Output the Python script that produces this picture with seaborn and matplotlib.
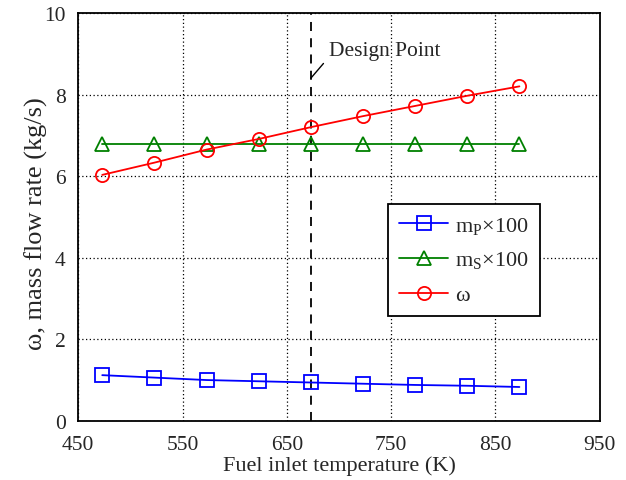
import matplotlib
matplotlib.use("Agg")
import matplotlib.pyplot as plt
import seaborn as sns
import pandas as pd

temperature = [473, 523, 573, 623, 673, 723, 773, 823, 873]
omega = [6.03, 6.33, 6.65, 6.91, 7.20, 7.47, 7.72, 7.97, 8.20]
ms_x100 = [6.79, 6.79, 6.79, 6.79, 6.79, 6.79, 6.79, 6.79, 6.79]
mp_x100 = [1.12, 1.06, 1.00, 0.97, 0.94, 0.91, 0.88, 0.86, 0.83]
design_point = 673
x_ticks = [450, 550, 650, 750, 850, 950]
y_ticks = [0, 2, 4, 6, 8, 10]

sns.set_style("white")
plt.rcParams['font.family'] = ['Liberation Serif', 'DejaVu Serif']
plt.rcParams['mathtext.fontset'] = 'custom'
plt.rcParams['mathtext.rm'] = 'Liberation Serif'

fig, ax = plt.subplots(figsize=(6.26, 4.81), dpi=100)
fig.subplots_adjust(left=0.125, right=0.958, top=0.971, bottom=0.123)

series = [
    (mp_x100, r"m$_\mathregular{P}$×100", "#0000ff", "s"),
    (ms_x100, r"m$_\mathregular{S}$×100", "#008000", "^"),
    (omega, "ω", "#ff0000", "o"),
]
for vals, lab, col, mk in series:
    df = pd.DataFrame({"T": temperature, "v": vals})
    sns.lineplot(data=df, x="T", y="v", ax=ax, color=col, marker=mk,
                 markersize=9.5, markerfacecolor="none", markeredgecolor=col,
                 markeredgewidth=1.3, linewidth=1.3, label=lab)

ax.axvline(design_point, color="black", linestyle=(0, (5, 4)), linewidth=1.3, zorder=1)
ax.annotate("Design Point", xy=(design_point, 8.4), xytext=(690, 9.07),
            fontsize=15.5, va="center", ha="left",
            arrowprops=dict(arrowstyle="-", color="black", linewidth=1,
                            shrinkA=2, shrinkB=0, relpos=(0, 0.15)))

ax.set_xlim(450, 950)
ax.set_ylim(0, 10)
ax.set_xticks(x_ticks)
ax.set_yticks(y_ticks)
ax.grid(True, color="black", linestyle=(0, (1, 2)), linewidth=0.9)
ax.set_axisbelow(True)
for s in ax.spines.values():
    s.set_color("black")
    s.set_linewidth(1.3)
ax.tick_params(axis="both", labelsize=15.5, direction="in", length=0)
ax.tick_params(axis="x", pad=10)
ax.tick_params(axis="y", pad=9)
ax.set_xlabel("Fuel inlet temperature (K)", fontsize=16, labelpad=1)
ax.set_ylabel("ω, mass flow rate (kg/s)", fontsize=19)
ax.yaxis.set_label_coords(-0.058, 0.485)

leg = ax.legend(loc="upper left", bbox_to_anchor=(0.594, 0.532), fontsize=16,
                frameon=True, fancybox=False, handlelength=2.2,
                handletextpad=0.3, borderpad=0.5, labelspacing=0.6,
                borderaxespad=0)
leg.get_frame().set_edgecolor("black")
leg.get_frame().set_linewidth(1.3)
leg.get_frame().set_alpha(1)

fig.savefig("out.png", dpi=100)
